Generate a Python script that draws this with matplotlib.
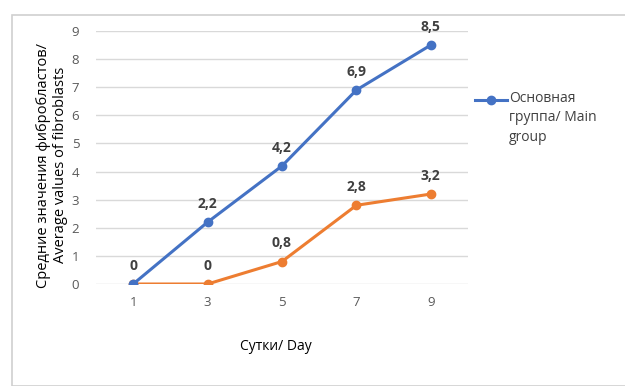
import matplotlib.pyplot as plt
from matplotlib.patches import Rectangle
from matplotlib.lines import Line2D

plt.rcParams['font.family'] = ['Open Sans', 'DejaVu Sans']

days = ['1', '3', '5', '7', '9']
main_group = [0, 2.2, 4.2, 6.9, 8.5]
control_group = [0, 0, 0.8, 2.8, 3.2]
main_labels = ['0', '2,2', '4,2', '6,9', '8,5']
control_labels = ['0', '0', '0,8', '2,8', '3,2']
legend_label = ['Основная', 'группа/ Main', 'group']

blue = '#4472C4'
orange = '#ED7D31'
grey = '#595959'

fig = plt.figure(figsize=(6.25, 3.86), dpi=100)
fig.patches.append(Rectangle((12 / 625, 0), 1, 1 - 15 / 386, transform=fig.transFigure,
                             fill=False, edgecolor='#D0D0D0', linewidth=1.2))
ax = fig.add_axes([96 / 625, 1 - 284 / 386, (468 - 96) / 625, (284 - 31) / 386])

x = list(range(len(days)))
ax.plot(x, control_group, color=orange, linewidth=2.2, marker='o', markersize=6, zorder=3)
ax.plot(x, main_group, color=blue, linewidth=2.2, marker='o', markersize=6, zorder=4)

# the "0" labels at day 1 overlap, so only the orange one is drawn
for xi, v, t in zip(x[1:], main_group[1:], main_labels[1:]):
    ax.annotate(t, (xi, v), xytext=(0, 8), textcoords='offset points', ha='center', va='bottom',
                fontsize=10, fontweight='bold', color='#404040')
for xi, v, t in zip(x, control_group, control_labels):
    ax.annotate(t, (xi, v), xytext=(0, 8), textcoords='offset points', ha='center', va='bottom',
                fontsize=10, fontweight='bold', color='#404040')

ax.set_xlim(-0.5, len(days) - 0.5)
ax.set_ylim(0, 9)
ax.set_yticks(range(10))
ax.set_xticks(x)
ax.set_xticklabels(days)
ax.grid(axis='y', color='#D9D9D9', linewidth=1)
ax.set_axisbelow(True)
for s in ax.spines.values():
    s.set_visible(False)
ax.tick_params(length=0, colors=grey, labelsize=9.5, pad=9)
ax.tick_params(axis='y', pad=12)

fig.text(276 / 625, 1 - 346 / 386, 'Сутки/ Day', ha='center', va='center', fontsize=10)
fig.text(52 / 625, 1 - 165 / 386, 'Средние значения фибробластов/\nAverage values of fibroblasts',
         ha='center', va='center', rotation=90, fontsize=10.5, linespacing=1.1)

# legend drawn by hand so the marker sits on the first line of the label
ly = 1 - 100 / 386
fig.add_artist(Line2D([475 / 625, 507 / 625], [ly, ly], transform=fig.transFigure,
                      color=blue, linewidth=2.2))
fig.add_artist(Line2D([491 / 625], [ly], transform=fig.transFigure, color=blue,
                      marker='o', markersize=6))
fig.text(509 / 625, ly + 9 / 386, '\n'.join(legend_label), ha='left', va='top', fontsize=10,
         color='#404040', linespacing=1.4)

fig.savefig('out.png', dpi=100)
